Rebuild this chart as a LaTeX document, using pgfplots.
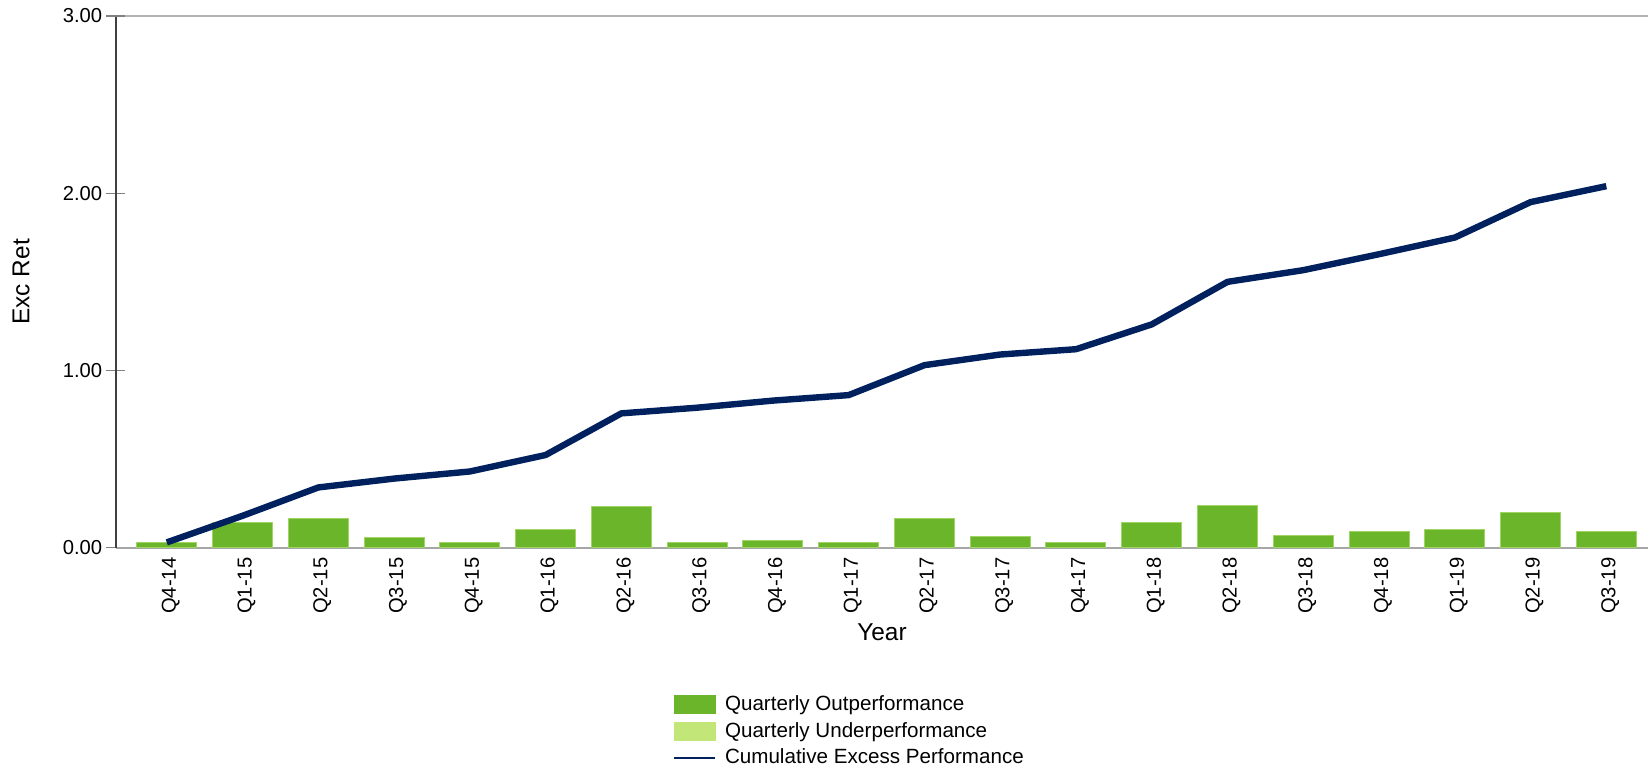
\documentclass[border=0pt]{standalone}
\usepackage{pgfplots}
\pgfplotsset{compat=1.18}
\usepackage{fontspec}
\setmainfont{Liberation Sans}

\definecolor{outgreen}{RGB}{107,181,42}
\definecolor{outedge}{RGB}{160,212,100}
\definecolor{undergreen}{RGB}{194,230,120}
\definecolor{navyline}{RGB}{0,33,94}

\begin{document}
\begin{tikzpicture}
\useasboundingbox (-58pt,-109.65pt) rectangle (766pt,273.85pt);
\begin{axis}[
    scale only axis,
    width=766pt, height=265.85pt,
    xmin=-0.67, xmax=19.55,
    ymin=0, ymax=3,
    axis x line=bottom, axis y line=left,
    x axis line style={-, draw=gray!70, line width=0.8pt},
    y axis line style={-, draw=black!75, line width=0.6pt},
    xtick={0,...,19},
    xticklabels={Q4-14,Q1-15,Q2-15,Q3-15,Q4-15,Q1-16,Q2-16,Q3-16,Q4-16,Q1-17,
                 Q2-17,Q3-17,Q4-17,Q1-18,Q2-18,Q3-18,Q4-18,Q1-19,Q2-19,Q3-19},
    x tick style={draw=none},
    xticklabel style={rotate=90, anchor=east, inner sep=0pt, yshift=-2pt,
        font=\fontsize{10.1}{12}\selectfont},
    ytick={0,1,2},
    extra y ticks={3},
    extra y tick style={ymajorgrids=true,
        major grid style={draw=gray!60, line width=1pt}},
    y tick style={draw=gray, line width=0.6pt},
    tick align=center,
    major tick length=9.5pt,
    yticklabel style={anchor=east, inner sep=0pt, xshift=-2pt,
        font=\fontsize{10.1}{12}\selectfont},
    /pgf/number format/.cd, fixed, fixed zerofill, precision=2,
        assume math mode=true,
    /pgfplots/.cd,
    xlabel={Year}, ylabel={Exc Ret},
    every axis x label/.style={at={(rel axis cs:0.5,0)}, yshift=-42.5pt,
        anchor=center, font=\fontsize{12.2}{14}\selectfont},
    every axis y label/.style={at={(rel axis cs:0,0.5)}, xshift=-47.5pt,
        rotate=90, anchor=center, font=\fontsize{12.2}{14}\selectfont},
    legend style={at={(rel axis cs:0.3636,-0.2765)}, anchor=north west,
        draw=none, fill=none, inner sep=0pt, outer sep=0pt,
        font=\fontsize{10.3}{12}\selectfont,
        row sep=4.1pt, column sep=4.5pt,
        nodes={inner sep=0pt, anchor=west}},
    legend cell align=left,
    clip=false,
]
\addplot[ybar, bar width=30pt, bar shift=0pt, fill=outgreen, draw=outedge,
    line width=0.5pt,
    legend image code/.code={\fill[outgreen] (0pt,-4.5pt) rectangle (20.5pt,4.5pt);}]
coordinates {
(0,0.028) (1,0.143) (2,0.162) (3,0.055) (4,0.032)
(5,0.100) (6,0.231) (7,0.032) (8,0.043) (9,0.032)
(10,0.167) (11,0.066) (12,0.028) (13,0.141) (14,0.237)
(15,0.068) (16,0.090) (17,0.100) (18,0.200) (19,0.094)
};
\addlegendentry{Quarterly Outperformance}
\addlegendimage{legend image code/.code={\fill[undergreen] (0pt,-4.5pt) rectangle (20.5pt,4.5pt);}}
\addlegendentry{Quarterly Underperformance}
\addplot[navyline, line width=3.2pt, line join=round,
    legend image code/.code={\draw[navyline, line width=1pt] (0pt,0pt) -- (20.5pt,0pt);}]
coordinates {
(0,0.03) (1,0.18) (2,0.34) (3,0.39) (4,0.43)
(5,0.523) (6,0.758) (7,0.79) (8,0.83) (9,0.861)
(10,1.03) (11,1.09) (12,1.12) (13,1.26) (14,1.50)
(15,1.566) (16,1.656) (17,1.75) (18,1.95) (19,2.04)
};
\addlegendentry{Cumulative Excess Performance}
\end{axis}
\end{tikzpicture}
\end{document}
